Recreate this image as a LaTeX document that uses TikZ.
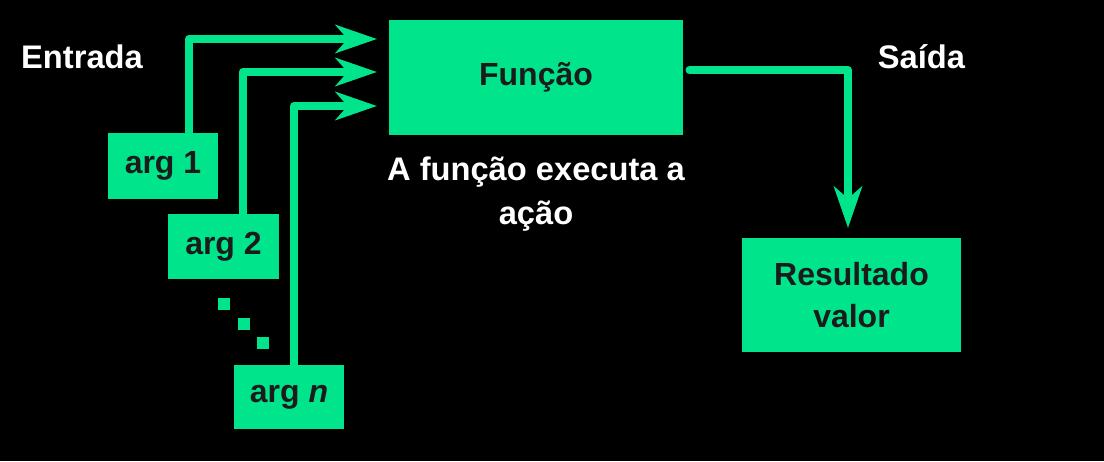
\documentclass[tikz,border=0pt]{standalone}
\usepackage{fontspec}
\setmainfont{Liberation Sans}
\usetikzlibrary{arrows.meta,calc}
\definecolor{fgreen}{RGB}{0,229,140}
\definecolor{fdark}{RGB}{27,27,27}
\tikzset{every picture/.style={line width=0.75pt}}
\tikzset{
  gbox/.style={fill=fgreen, draw=none, inner sep=0pt, align=center, text=fdark,
    font=\fontsize{24}{31.5}\selectfont\bfseries},
  wlabel/.style={text=white, inner sep=0pt, align=center,
    font=\fontsize{24.5}{33}\selectfont\bfseries},
  flow/.style={draw=fgreen, line width=6pt, line cap=round, line join=round,
    -{Stealth[length=31pt, width=21pt, inset=9pt]}}
}

\begin{document}
\begin{tikzpicture}[x=0.75pt,y=0.75pt,yscale=-1,xscale=1]
%set diagram size: 1104 x 461
\fill[black] (0,0) rectangle (1104,461);
\useasboundingbox (0,0) rectangle (1104,461);

%Shape: Rectangle [fn]
\node[gbox, minimum width=220.5pt, minimum height=86pt] (fn) at (536,77.5) {\raisebox{-2pt}{Função}};
%Shape: Rectangle [arg1]
\node[gbox, minimum width=83pt, minimum height=49.5pt] (arg1) at (163,166) {arg 1};
%Shape: Rectangle [arg2]
\node[gbox, minimum width=83pt, minimum height=49pt] (arg2) at (223.5,246.5) {arg 2};
%Shape: Rectangle [argn]
\node[gbox, minimum width=82.5pt, minimum height=48pt] (argn) at (289,397) {arg \textit{n}};
%Shape: Rectangle [res]
\node[gbox, minimum width=164pt, minimum height=85.5pt] (res) at (851.5,295) {Resultado\\valor};

%Shape: Squares (dots)
\foreach \i in {0,1,2}
  \fill[fgreen] (218+19.5*\i,298+19.5*\i) rectangle ++(12,12);

%Arrow tips
\coordinate (tip1) at (377,39);
\coordinate (tip2) at (377,72);
\coordinate (tip3) at (377,106);
\coordinate (out) at (848,228);

%Straight Lines [inputs]
\draw[flow] ($(arg1.north)+(26,0)$) |- (tip1);
\draw[flow] ($(arg2.north)+(19.5,0)$) |- (tip2);
\draw[flow] ($(argn.north)+(5,0)$) |- (tip3);
%Straight Lines [output]
\draw[flow] ($(fn.east)+(6,-7.5)$) -| (out);

% Text Node
\node[wlabel, anchor=base] (ent) at (82,68) {Entrada};
% Text Node
\node[wlabel, anchor=base] (sai) at (921.5,68) {Saída};
% Text Node
\node[wlabel] (desc) at (536,194) {A função executa a\\ação};

\end{tikzpicture}
\end{document}
